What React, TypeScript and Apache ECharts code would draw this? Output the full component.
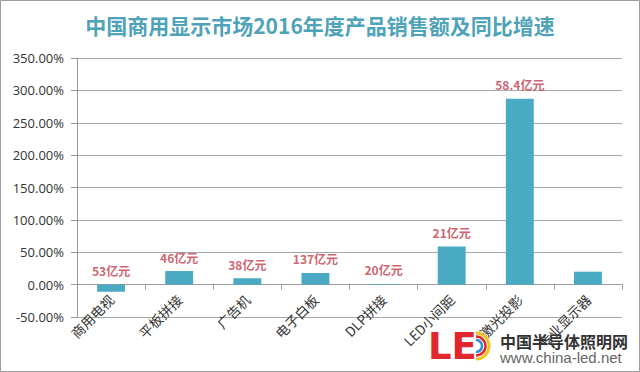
import React, { useEffect, useRef } from "react";
import * as echarts from "echarts";

const categories = ["商用电视", "平板拼接", "广告机", "电子白板", "DLP拼接", "LED小间距", "激光投影", "专业显示器"];
const growth = [-11, 21, 10, 18, 1, 59, 287, 20];
const salesLabels = ["53亿元", "46亿元", "38亿元", "137亿元", "20亿元", "21亿元", "58.4亿元", ""];
const yTicks = { min: -50, max: 350, interval: 50 };
const titleText = "中国商用显示市场2016年度产品销售额及同比增速";

export default function App() {
  const ref = useRef<HTMLDivElement>(null);
  useEffect(() => {
    const chart = echarts.init(ref.current!, undefined, { renderer: "svg" });
    const cjk = '"Noto Sans CJK SC", "Noto Sans", sans-serif';
    chart.setOption({
      animation: false,
      backgroundColor: "#ffffff",
      title: {
        text: titleText,
        left: "center",
        top: 9,
        textStyle: {
          fontFamily: cjk,
          fontSize: 21,
          fontWeight: "bold",
          color: "#4fa3b8",
        },
      },
      grid: {
        left: 77,
        right: 18,
        top: 58,
        bottom: 55,
        containLabel: false,
        outerBoundsMode: "none",
      },
      xAxis: {
        type: "category",
        data: categories,
        axisLine: { onZero: true, lineStyle: { color: "#9a9a9a", width: 1 } },
        axisTick: { show: true, alignWithLabel: false, length: 5, lineStyle: { color: "#9a9a9a" } },
        axisLabel: {
          rotate: 45,
          margin: -20,
          interval: 0,
          fontFamily: cjk,
          fontSize: 13.5,
          color: "#333333",
        },
      },
      yAxis: {
        type: "value",
        min: yTicks.min,
        max: yTicks.max,
        interval: yTicks.interval,
        axisLine: { show: true, lineStyle: { color: "#9a9a9a" } },
        axisTick: { show: true, length: 6, lineStyle: { color: "#9a9a9a" } },
        splitLine: { show: true, lineStyle: { color: "#a8a8a8", width: 1 } },
        axisLabel: {
          formatter: (v: number) => v.toFixed(2) + "%",
          fontFamily: '"Open Sans", "Noto Sans", sans-serif',
          fontSize: 13,
          color: "#333333",
          margin: 13,
        },
      },
      series: [
        {
          type: "bar",
          data: growth,
          barWidth: "41%",
          itemStyle: { color: "#4aaac3" },
        },
        {
          type: "scatter",
          data: growth.map((v, i) => [i, Math.max(v, 0)]),
          symbolSize: 0,
          z: 5,
          label: {
            show: true,
            position: "top",
            distance: 8,
            formatter: (p: any) => salesLabels[p.dataIndex],
            fontFamily: cjk,
            fontSize: 12,
            fontWeight: "bold",
            color: "#c23a48",
          },
        },
      ],
      graphic: [
        {
          type: "rect",
          shape: { x: 0.5, y: 0.5, width: 639, height: 371 },
          style: { fill: "none", stroke: "#9c9c9c", lineWidth: 1 },
          z: 100,
        },
        {
          type: "text",
          x: 428,
          y: 328,
          z: 100,
          style: {
            text: "LE",
            font: 'bold 37px "DejaVu Sans", sans-serif',
            fill: "#e1262d",
          },
        },
        {
          type: "arc",
          z: 100,
          shape: { cx: 476, cy: 346, r: 13, startAngle: -Math.PI / 2, endAngle: Math.PI / 2 },
          style: { stroke: "#f3c21a", lineWidth: 3, fill: "none" },
        },
        {
          type: "arc",
          z: 100,
          shape: { cx: 476, cy: 346, r: 9.5, startAngle: -Math.PI / 2, endAngle: Math.PI / 2 },
          style: { stroke: "#e1262d", lineWidth: 2.5, fill: "none" },
        },
        {
          type: "arc",
          z: 100,
          shape: { cx: 476, cy: 346, r: 6, startAngle: -Math.PI / 2, endAngle: Math.PI / 2 },
          style: { stroke: "#2c8fd2", lineWidth: 2.5, fill: "none" },
        },
        {
          type: "text",
          x: 500,
          y: 333,
          z: 100,
          style: {
            text: "中国半导体照明网",
            font: 'bold 16px "Noto Sans CJK SC", sans-serif',
            fill: "#333333",
          },
        },
        {
          type: "text",
          x: 500,
          y: 350,
          z: 100,
          style: {
            text: "www.china-led.net",
            font: '15px "Liberation Sans", sans-serif',
            fill: "#666666",
          },
        },
      ],
    });
    return () => chart.dispose();
  }, []);
  return (
    <div
      ref={ref}
      style={{ position: "fixed", left: 0, top: 0, width: 640, height: 372 }}
    />
  );
}
